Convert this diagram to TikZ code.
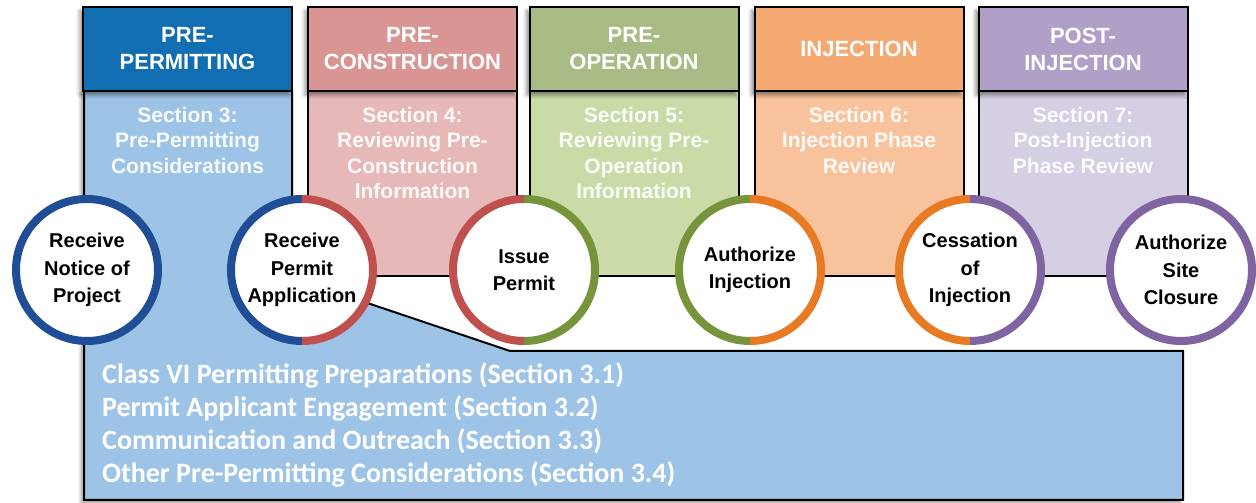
\documentclass[tikz,border=0pt]{standalone}
\usepackage{fontspec}
\setmainfont{Liberation Sans}
\newfontfamily\listfont{Carlito}
\usetikzlibrary{shadows.blur}
\definecolor{hdrA}{HTML}{116EB3}
\definecolor{bodyA}{HTML}{9DC3E6}
\definecolor{hdrB}{HTML}{D99594}
\definecolor{bodyB}{HTML}{E6B9B8}
\definecolor{hdrC}{HTML}{A9BB85}
\definecolor{bodyC}{HTML}{CADBA8}
\definecolor{hdrD}{HTML}{F4A872}
\definecolor{bodyD}{HTML}{F8C39C}
\definecolor{hdrE}{HTML}{B0A0C8}
\definecolor{bodyE}{HTML}{D6CEE3}
\definecolor{ringA}{HTML}{1F4E97}
\definecolor{ringB}{HTML}{C0504D}
\definecolor{ringC}{HTML}{77933C}
\definecolor{ringD}{HTML}{E97A24}
\definecolor{ringE}{HTML}{8064A2}
\begin{document}
\begin{tikzpicture}[x=1bp,y=1bp,
  hdr/.style={draw=black, line width=2bp, minimum width=209bp, minimum height=84bp,
    inner sep=0, text=white, font=\bfseries\fontsize{22bp}{27bp}\selectfont, align=center,
    blur shadow={shadow xshift=-3bp, shadow yshift=-4bp, shadow opacity=45, shadow blur radius=4bp}},
  bodybox/.style={draw=black, line width=2bp, minimum width=209bp, minimum height=185bp, inner sep=0},
  sectext/.style={text=white, text opacity=0.92, font=\bfseries\fontsize{21bp}{25.5bp}\selectfont,
    align=center, anchor=north, inner sep=0},
  stage/.style={circle, fill=white, minimum size=142bp, inner sep=0,
    font=\bfseries\fontsize{20bp}{27.5bp}\selectfont, align=center},
  ring/.style={line width=8bp}
]
\useasboundingbox (0,0) rectangle (1256,503);

% body boxes
\node[bodybox, fill=bodyB] (b2) at (412.5,319.5) {};
\node[bodybox, fill=bodyC] (b3) at (634,319.5) {};
\node[bodybox, fill=bodyD] (b4) at (859,319.5) {};
\node[bodybox, fill=bodyE] (b5) at (1083,319.5) {};

% pre-permitting column + callout
\path[draw=black, line width=2bp, fill=bodyA,
  blur shadow={shadow xshift=-3bp, shadow yshift=-3bp, shadow opacity=40, shadow blur radius=3bp}]
  (84,412) -- (292,412) -- (292,233) -- (302,222) -- (510,152) -- (1183,152) -- (1183,3) -- (84,3) -- cycle;

% headers
\node[hdr, fill=hdrA] (h1) at (187.5,454) {PRE-\\PERMITTING};
\node[hdr, fill=hdrB] (h2) at (412.5,454) {PRE-\\CONSTRUCTION};
\node[hdr, fill=hdrC] (h3) at (634,454) {PRE-\\OPERATION};
\node[hdr, fill=hdrD] (h4) at (859,454) {INJECTION};
\node[hdr, fill=hdrE] (h5) at (1083,454) {POST-\\INJECTION};

% section texts
\node[sectext] (s1) at ([yshift=-15bp]h1.south) {Section 3:\\Pre-Permitting\\Considerations};
\node[sectext] (s2) at ([yshift=-15bp]h2.south) {Section 4:\\Reviewing Pre-\\Construction\\Information};
\node[sectext] (s3) at ([yshift=-15bp]h3.south) {Section 5:\\Reviewing Pre-\\Operation\\Information};
\node[sectext] (s4) at ([yshift=-15bp]h4.south) {Section 6:\\Injection Phase\\Review};
\node[sectext] (s5) at ([yshift=-15bp]h5.south) {Section 7:\\Post-Injection\\Phase Review};

% callout list
\node[anchor=base west, inner sep=0, align=left, text=white,
  font=\listfont\bfseries\fontsize{28bp}{33bp}\selectfont] (list) at (102,20)
  {Class VI Permitting Preparations (Section 3.1)\\
   Permit Applicant Engagement (Section 3.2)\\
   Communication and Outreach (Section 3.3)\\
   Other Pre-Permitting Considerations (Section 3.4)};

% stage circles
\node[stage] (c1) at (87,233) {Receive\\Notice of\\Project};
\node[stage] (c2) at (302,233) {Receive\\Permit\\Application};
\node[stage] (c3) at (524,233) {Issue\\Permit};
\node[stage] (c4) at (750,233) {Authorize\\Injection};
\node[stage] (c5) at (970,233) {Cessation\\of\\Injection};
\node[stage] (c6) at (1181,233) {Authorize\\Site\\Closure};

\draw[ring, ringA] (c1.center) circle[radius=71bp];
\draw[ring, ringE] (c6.center) circle[radius=71bp];
\foreach \c/\l/\r in {c2/ringA/ringB, c3/ringB/ringC, c4/ringC/ringD, c5/ringD/ringE}{
  \draw[ring, \l] ([yshift=71bp]\c.center) arc[start angle=90, end angle=270, radius=71bp];
  \draw[ring, \r] ([yshift=71bp]\c.center) arc[start angle=90, end angle=-90, radius=71bp];
}
\end{tikzpicture}
\end{document}
